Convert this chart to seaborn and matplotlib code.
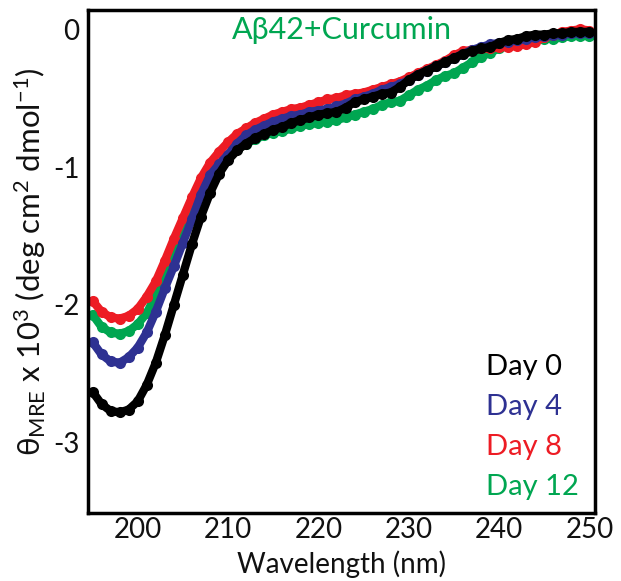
import numpy as np
import pandas as pd
import matplotlib
matplotlib.use("Agg")
import matplotlib.pyplot as plt
import seaborn as sns

wavelength = list(range(195, 251))

day0 = [-2.63, -2.72, -2.77, -2.78, -2.76, -2.70, -2.58, -2.42, -2.22, -2.00,
        -1.78, -1.56, -1.36, -1.19, -1.05, -0.95, -0.88, -0.83, -0.79, -0.76,
        -0.73, -0.71, -0.68, -0.66, -0.64, -0.62, -0.61, -0.60, -0.57, -0.53,
        -0.51, -0.49, -0.47, -0.46, -0.42, -0.37, -0.33, -0.30, -0.27, -0.24,
        -0.21, -0.18, -0.16, -0.14, -0.13, -0.10, -0.08, -0.07, -0.05, -0.04,
        -0.04, -0.03, -0.03, -0.02, -0.02, -0.02]
day4 = [-2.27, -2.36, -2.41, -2.42, -2.38, -2.31, -2.20, -2.05, -1.88, -1.72,
        -1.55, -1.38, -1.20, -1.06, -0.98, -0.91, -0.83, -0.77, -0.73, -0.70,
        -0.67, -0.65, -0.63, -0.62, -0.60, -0.59, -0.58, -0.56, -0.54, -0.51,
        -0.49, -0.47, -0.44, -0.42, -0.40, -0.37, -0.33, -0.30, -0.27, -0.24,
        -0.21, -0.18, -0.15, -0.13, -0.11, -0.10, -0.09, -0.08, -0.07, -0.06,
        -0.05, -0.04, -0.04, -0.03, -0.03, -0.03]
day8 = [-1.97, -2.05, -2.09, -2.10, -2.08, -2.03, -1.94, -1.83, -1.68, -1.52,
        -1.37, -1.22, -1.08, -0.97, -0.89, -0.82, -0.76, -0.72, -0.68, -0.65,
        -0.62, -0.60, -0.58, -0.57, -0.55, -0.53, -0.51, -0.50, -0.48, -0.47,
        -0.46, -0.44, -0.42, -0.40, -0.38, -0.35, -0.32, -0.29, -0.26, -0.23,
        -0.19, -0.16, -0.15, -0.14, -0.14, -0.13, -0.13, -0.12, -0.11, -0.09,
        -0.06, -0.04, -0.02, -0.01, 0.00, -0.01]
day12 = [-2.07, -2.16, -2.20, -2.21, -2.19, -2.14, -2.06, -1.93, -1.78, -1.62,
         -1.46, -1.30, -1.16, -1.04, -0.98, -0.93, -0.87, -0.83, -0.80, -0.77,
         -0.75, -0.74, -0.72, -0.70, -0.69, -0.68, -0.67, -0.66, -0.64, -0.62,
         -0.60, -0.58, -0.55, -0.53, -0.52, -0.48, -0.44, -0.41, -0.37, -0.34,
         -0.32, -0.28, -0.24, -0.20, -0.17, -0.14, -0.12, -0.10, -0.09, -0.08,
         -0.07, -0.07, -0.06, -0.05, -0.05, -0.05]

series_names = ["Day 0", "Day 4", "Day 8", "Day 12"]
series_values = [day0, day4, day8, day12]
colors = {"Day 0": "#000000", "Day 4": "#2E3192", "Day 8": "#ED1C24", "Day 12": "#00A651"}
draw_order = ["Day 12", "Day 8", "Day 4", "Day 0"]
x_ticks = [200, 210, 220, 230, 240, 250]
y_ticks = [0, -1, -2, -3]

sns.set_style("white")
plt.rcParams["font.family"] = ["Lato", "DejaVu Sans"]
plt.rcParams["mathtext.fontset"] = "custom"
plt.rcParams["mathtext.rm"] = "Lato"
plt.rcParams["mathtext.it"] = "Lato:italic"
plt.rcParams["mathtext.bf"] = "Lato:bold"

rows = []
for name, vals in zip(series_names, series_values):
    for w, v in zip(wavelength, vals):
        rows.append({"wavelength": w, "theta": v, "day": name})
df = pd.DataFrame(rows)

fig = plt.figure(figsize=(6.21, 5.81), dpi=100)
ax = fig.add_axes([0.1417, 0.117, 0.8163, 0.866])

for name in draw_order:
    sub = df[df["day"] == name]
    sns.lineplot(data=sub, x="wavelength", y="theta", color=colors[name],
                 linewidth=6, marker="o", markersize=8, markeredgewidth=0,
                 ax=ax, legend=False)

ax.set_xlim(194.5, 250.6)
ax.set_ylim(-3.51, 0.14)
ax.set_xticks(x_ticks)
ax.set_xticklabels([str(t) for t in x_ticks])
ax.set_yticks(y_ticks)
ax.set_yticklabels([str(t) for t in y_ticks])
ax.set_yticks([-0.5, -1.5, -2.5], minor=True)
ax.tick_params(axis="both", which="both", direction="in", length=5, width=1,
               color="#999999", labelsize=20, labelcolor="#111111")
ax.tick_params(axis="x", pad=3)
ax.tick_params(axis="y", pad=6)
for s in ax.spines.values():
    s.set_linewidth(2.5)
    s.set_color("black")

ax.set_xlabel("Wavelength (nm)", fontsize=20, labelpad=5, color="#111111")
ax.set_ylabel(r"θ$_{\mathregular{MRE}}$ x 10$^{\mathregular{3}}$ (deg cm$^{\mathregular{2}}$ dmol$^{\mathregular{-1}}$)",
              fontsize=22.5, labelpad=4, color="#111111")

ax.text(0.5, 0.96, "Aβ42+Curcumin", transform=ax.transAxes, ha="center", va="center",
        fontsize=22, color="#00A651")
legend_y = [0.29, 0.21, 0.131, 0.052]
for name, yy in zip(series_names, legend_y):
    ax.text(0.785, yy, name, transform=ax.transAxes, ha="left", va="center",
            fontsize=21, color=colors[name])

fig.savefig("out.png", dpi=100)
